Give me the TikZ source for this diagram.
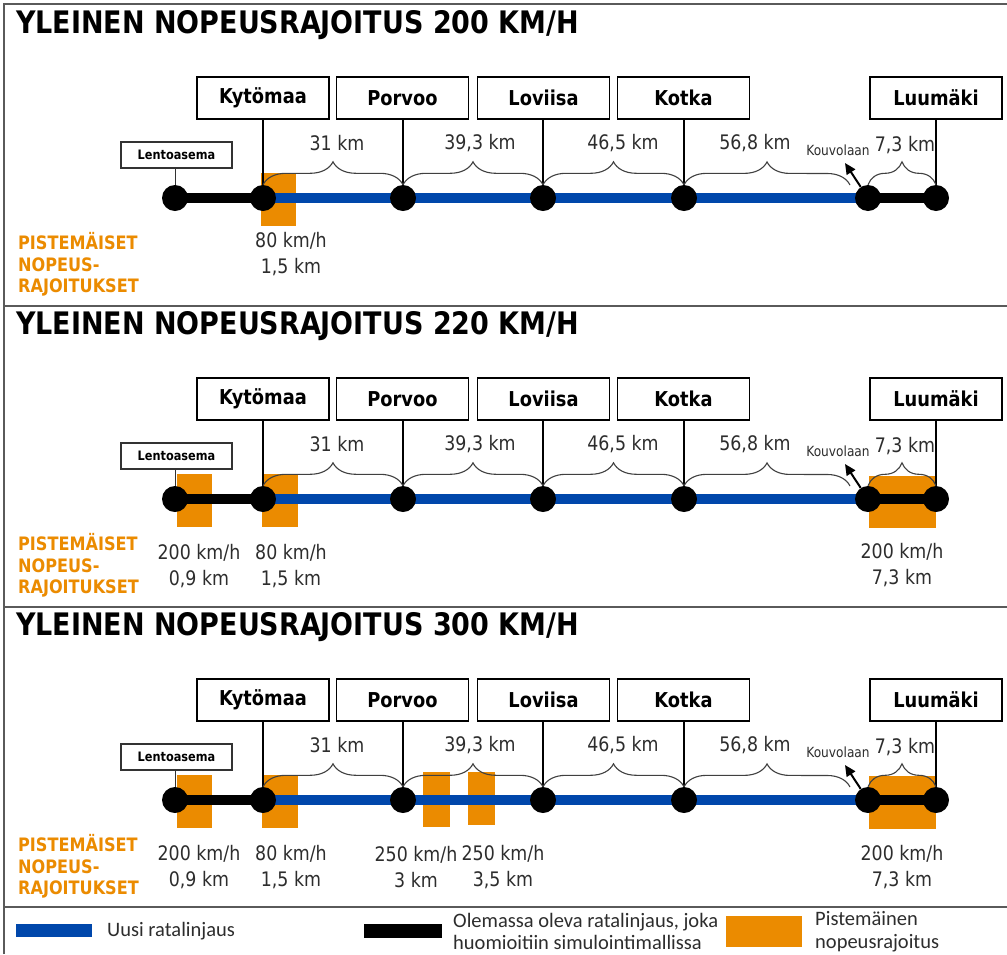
\documentclass[tikz,border=0pt]{standalone}
\usepackage{fontspec}
\setmainfont{DejaVu Sans}[FakeStretch=0.87]
\newfontfamily\legendfont{Carlito}
\usetikzlibrary{decorations.pathreplacing,arrows.meta}
\definecolor{trackblue}{RGB}{0,71,171}
\definecolor{limitorange}{RGB}{235,139,0}
\definecolor{framegray}{RGB}{90,90,90}
\definecolor{txtgray}{RGB}{45,45,45}
\pgfdeclarelayer{paper}
\pgfdeclarelayer{bbg}
\pgfdeclarelayer{bg}
\pgfsetlayers{paper,bbg,bg,main}
\tikzset{
  stbox/.style={draw=black, line width=1.8pt, minimum width=132pt, minimum height=42pt, inner sep=0pt, fill=white,
    font=\fontsize{20.5}{24}\selectfont\bfseries},
  airbox/.style={draw=black!80, line width=1.2pt, minimum width=111pt, minimum height=26pt, inner sep=0pt, fill=white,
    font=\fontsize{13}{15}\selectfont\bfseries},
  stn/.style={circle, fill=black, minimum size=26pt, inner sep=0pt},
  oldtrack/.style={line width=10.5pt, black},
  newtrack/.style={line width=10.5pt, trackblue},
  drop/.style={line width=1.6pt, black},
  thinline/.style={line width=1pt, black!80},
  brc/.style={decorate, decoration={brace, amplitude=23pt}, line width=1.1pt, black!75},
  kmlabel/.style={font=\fontsize{20}{24}\selectfont, text=txtgray, inner sep=0pt},
  kouvlabel/.style={font=\fontsize{14}{16}\selectfont, text=txtgray, inner sep=0pt},
  kouvarrow/.style={line width=2pt, black, -{Triangle[length=11pt,width=10pt]}},
  limitbox/.style={fill=limitorange, draw=none, inner sep=0pt},
  limlabel/.style={font=\fontsize{20}{26}\selectfont, text=txtgray, align=center, inner sep=0pt},
  pstline/.style={font=\fontsize{18.5}{21}\selectfont\bfseries, text=limitorange, anchor=base west, inner sep=0pt},
  paneltitle/.style={font=\fontsize{31}{36}\selectfont\bfseries, anchor=west, inner sep=0pt},
  divider/.style={line width=1.5pt, framegray},
  legtext/.style={font=\legendfont\fontsize{20.5}{22.5}\selectfont, text=txtgray, anchor=west, align=left, inner sep=0pt},
}
% #1 name prefix, #2 vertical offset, #3 speed, #4 orange restriction boxes (panel-relative coordinates)
\newcommand\railpanel[4]{%
\begin{scope}[shift={(0,#2)}]
  \node[paneltitle] (#1title) at (16,25) {YLEINEN NOPEUSRAJOITUS #3 KM/H};
  \begin{pgfonlayer}{bbg}
    #4
  \end{pgfonlayer}
  % stations
  \node[stn] (#1L) at (175,198) {};
  \node[stn] (#1K) at (263,198) {};
  \node[stn] (#1P) at (403,198) {};
  \node[stn] (#1V) at (543,198) {};
  \node[stn] (#1T) at (684,198) {};
  \node[stn] (#1J) at (868,198) {};
  \node[stn] (#1M) at (936,198) {};
  % tracks
  \begin{pgfonlayer}{bg}
    \draw[oldtrack] (#1L.center) -- (#1K.center);
    \draw[newtrack] (#1K.center) -- (#1J.center);
    \draw[oldtrack] (#1J.center) -- (#1M.center);
  \end{pgfonlayer}
  % name boxes
  \node[airbox] (#1Lb) at (176.5,155) {Lentoasema};
  \node[stbox] (#1Kb) at (263,98) {Kytömaa};
  \node[stbox] (#1Pb) at (402.5,98) {Porvoo};
  \node[stbox] (#1Vb) at (543.5,98) {Loviisa};
  \node[stbox] (#1Tb) at (683.5,98) {Kotka};
  \node[stbox] (#1Mb) at (936,98) {Luumäki};
  \draw[thinline] (#1Lb.south -| #1L) -- (#1L);
  \draw[drop] (#1Kb.south -| #1K) -- (#1K);
  \draw[drop] (#1Pb.south -| #1P) -- (#1P);
  \draw[drop] (#1Vb.south -| #1V) -- (#1V);
  \draw[drop] (#1Tb.south -| #1T) -- (#1T);
  \draw[drop] (#1Mb.south -| #1M) -- (#1M);
  % braces
  \coordinate (#1be) at (850,185);
  \draw[brc] (#1K.north) -- (#1P.north);
  \draw[brc] (#1P.north) -- (#1V.north);
  \draw[brc] (#1V.north) -- (#1T.north);
  \draw[brc] (#1T.north) -- (#1be);
  \draw[brc] (#1J.north) -- (#1M.north);
  \node[kmlabel] (#1d1) at (337,143) {31 km};
  \node[kmlabel] (#1d2) at (480,143) {39,3 km};
  \node[kmlabel] (#1d3) at (623,143) {46,5 km};
  \node[kmlabel] (#1d4) at (755,143) {56,8 km};
  \node[kmlabel] (#1d5) at (905,145) {7,3 km};
  % Kouvola branch
  \coordinate (#1kv) at (845,163);
  \draw[kouvarrow] (#1J) -- (#1kv);
  \node[kouvlabel] (#1kvl) at (838,150) {Kouvolaan};
  % point restrictions title
  \node[pstline] (#1p1) at (18,249.5) {PISTEMÄISET};
  \node[pstline] (#1p2) at (18,271) {NOPEUS-};
  \node[pstline] (#1p3) at (18,292) {RAJOITUKSET};
\end{scope}}

\begin{document}
\begin{tikzpicture}[x=1pt,y=-1pt]
\useasboundingbox (0,0) rectangle (1007,954);
\begin{pgfonlayer}{paper}
  \fill[white] (0,0) rectangle (1007,954);
\end{pgfonlayer}
% frame
\draw[divider] (4,954) -- (4,4) -- (1007,4);
\draw[divider] (4,306) -- (1007,306);
\draw[divider] (4,607) -- (1007,607);
\draw[divider] (4,907) -- (1007,907);

\railpanel{a}{0}{200}{%
  \node[limitbox, minimum width=35pt, minimum height=53pt] (aoK) at (278.5,199.5) {};
}
\node[limlabel] (alK) at (291,254.5) {80 km/h\\1,5 km};

\railpanel{b}{301}{220}{%
  \node[limitbox, minimum width=35pt, minimum height=53pt] (boL) at (194.5,199.5) {};
  \node[limitbox, minimum width=36pt, minimum height=53pt] (boK) at (280,199.5) {};
  \node[limitbox, minimum width=67pt, minimum height=52pt] (boM) at (902.5,201) {};
}
\node[limlabel] (blL) at (199,566) {200 km/h\\0,9 km};
\node[limlabel] (blK) at (291,566) {80 km/h\\1,5 km};
\node[limlabel] (blM) at (902,565) {200 km/h\\7,3 km};

\railpanel{c}{602}{300}{%
  \node[limitbox, minimum width=35pt, minimum height=53pt] (coL) at (194.5,199.5) {};
  \node[limitbox, minimum width=36pt, minimum height=53pt] (coK) at (280,199.5) {};
  \node[limitbox, minimum width=27pt, minimum height=55pt] (coP1) at (436.5,197.5) {};
  \node[limitbox, minimum width=27pt, minimum height=53pt] (coP2) at (481.5,196.5) {};
  \node[limitbox, minimum width=67pt, minimum height=53pt] (coM) at (902.5,200.5) {};
}
\node[limlabel] (clL) at (199,867) {200 km/h\\0,9 km};
\node[limlabel] (clK) at (291,867) {80 km/h\\1,5 km};
\node[limlabel] (clP1) at (416,867) {250 km/h\\3 km};
\node[limlabel] (clP2) at (503,867) {250 km/h\\3,5 km};
\node[limlabel] (clM) at (902,867) {200 km/h\\7,3 km};

% legend
\node[fill=trackblue, inner sep=0pt, minimum width=76pt, minimum height=13pt] (legnew) at (54,930.5) {};
\node[legtext] (legnewt) at (107,931) {Uusi ratalinjaus};
\node[fill=black, inner sep=0pt, minimum width=78pt, minimum height=14pt] (legold) at (403,931) {};
\node[legtext] (legoldt) at (453,931.5) {Olemassa oleva ratalinjaus, joka\\huomioitiin simulointimallissa};
\node[limitbox, minimum width=76pt, minimum height=31pt] (leglim) at (764,931.5) {};
\node[legtext] (leglimt) at (815,931.5) {Pistemäinen\\nopeusrajoitus};
\end{tikzpicture}
\end{document}
